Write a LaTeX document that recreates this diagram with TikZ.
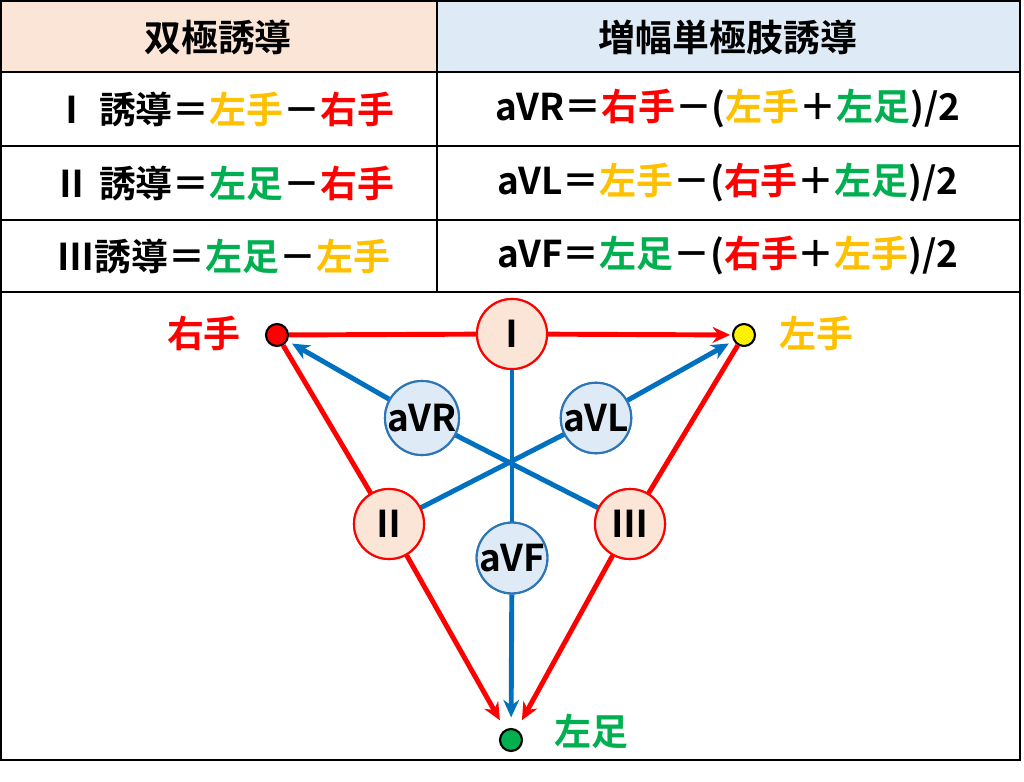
\documentclass[tikz,border=0pt]{standalone}
\usepackage{fontspec}
\setmainfont{Noto Sans CJK JP}[BoldFont={Noto Sans CJK JP Bold}]
\usetikzlibrary{arrows.meta}
\definecolor{peach}{HTML}{FBE5D6}
\definecolor{paleblue}{HTML}{DEEBF7}
\definecolor{orng}{HTML}{FFC000}
\definecolor{grn}{HTML}{00B050}
\definecolor{redd}{HTML}{FF0000}
\definecolor{blu}{HTML}{0070C0}
\definecolor{cblu}{HTML}{2E75B6}
\newcommand{\RH}{\textcolor{redd}{右手}}
\newcommand{\LH}{\textcolor{orng}{左手}}
\newcommand{\LF}{\textcolor{grn}{左足}}

\begin{document}
\begin{tikzpicture}[x=0.02cm,y=-0.02cm,
  txt/.style={font=\fontsize{21}{24}\selectfont\bfseries},
  lead/.style={circle,draw=redd,fill=peach,line width=1.2pt,minimum size=70*0.02cm,inner sep=0pt,txt},
  aug/.style={circle,draw=cblu,fill=paleblue,line width=1.2pt,minimum size=70*0.02cm,inner sep=0pt,txt},
  limb/.style={circle,draw=black,line width=1.2pt,minimum size=22*0.02cm,inner sep=0pt},
  redarr/.style={redd,line width=2.8pt,-{Stealth[length=10pt,width=9pt]}},
  bluarr/.style={blu,line width=2.8pt,-{Stealth[length=10pt,width=9pt]}}]
\useasboundingbox (0,0) rectangle (1024,781);
% table
\fill[peach] (0,0) rectangle (437,72);
\fill[paleblue] (437,0) rectangle (1020,72);
\draw[line width=1pt] (1,1) rectangle (1020,760);
\draw[line width=1pt] (1,72) -- (1020,72);
\draw[line width=1pt] (1,146) -- (1020,146);
\draw[line width=1pt] (1,220) -- (1020,220);
\draw[line width=1pt] (1,292) -- (1020,292);
\draw[line width=1pt] (437,1) -- (437,292);

\node[txt] (h1) at (218,37) {双極誘導};
\node[txt] (h2) at (728,37) {増幅単極肢誘導};
\node[txt] (r1) at (224,109) {Ⅰ 誘導＝\LH－\RH};
\node[txt] (r2) at (224,183) {Ⅱ 誘導＝\LF－\RH};
\node[txt] (r3) at (224,256) {Ⅲ誘導＝\LF－\LH};
\node[txt] (s1) at (728,109) {aVR＝\RH－(\LH＋\LF)/2};
\node[txt] (s2) at (728,183) {aVL＝\LH－(\RH＋\LF)/2};
\node[txt] (s3) at (728,256) {aVF＝\LF－(\RH＋\LH)/2};

% limbs
\node[limb,fill=redd] (ra) at (277,335) {};
\node[limb,fill=yellow] (la) at (744,335) {};
\node[limb,fill=grn] (lf) at (511,740) {};
\node[txt,text=redd,anchor=east] (ral) at (247,333) {右手};
\node[txt,text=orng,anchor=west] (lal) at (773,333) {左手};
\node[txt,text=grn,anchor=west] (lfl) at (548,731) {左足};

% blue
\node[lead] (I) at (512,334) {Ⅰ};
\node[lead] (II) at (389,524) {Ⅱ};
\node[lead] (III) at (630,524) {Ⅲ};
\node[aug] (aVR) at (422,418) {aVR};
\node[aug] (aVL) at (596,418) {aVL};
\node[aug] (aVF) at (512,558) {aVF};
\draw[blu,line width=2.8pt] (III) -- (aVR);
\draw[blu,line width=2.8pt] (II) -- (aVL);
\draw[blu,line width=2.8pt] (I) -- (aVF);
\draw[bluarr,shorten >=3pt] (aVR) -- (ra);
\draw[bluarr,shorten >=3pt] (aVL) -- (la);
\draw[bluarr,shorten >=6pt] (aVF) -- (lf);
% red
\draw[redd,line width=2.8pt] (ra) -- (I);
\draw[redarr,shorten >=1pt] (I) -- (la);
\draw[redd,line width=2.8pt] (ra) -- (II);
\draw[redarr,shorten >=6pt] (II) -- (lf);
\draw[redd,line width=2.8pt] (la) -- (III);
\draw[redarr,shorten >=6pt] (III) -- (lf);
% redraw circles on top
\node[lead] at (I) {Ⅰ};
\node[lead] at (II) {Ⅱ};
\node[lead] at (III) {Ⅲ};
\node[aug] at (aVR) {aVR};
\node[aug] at (aVL) {aVL};
\node[aug] at (aVF) {aVF};
\end{tikzpicture}
\end{document}
